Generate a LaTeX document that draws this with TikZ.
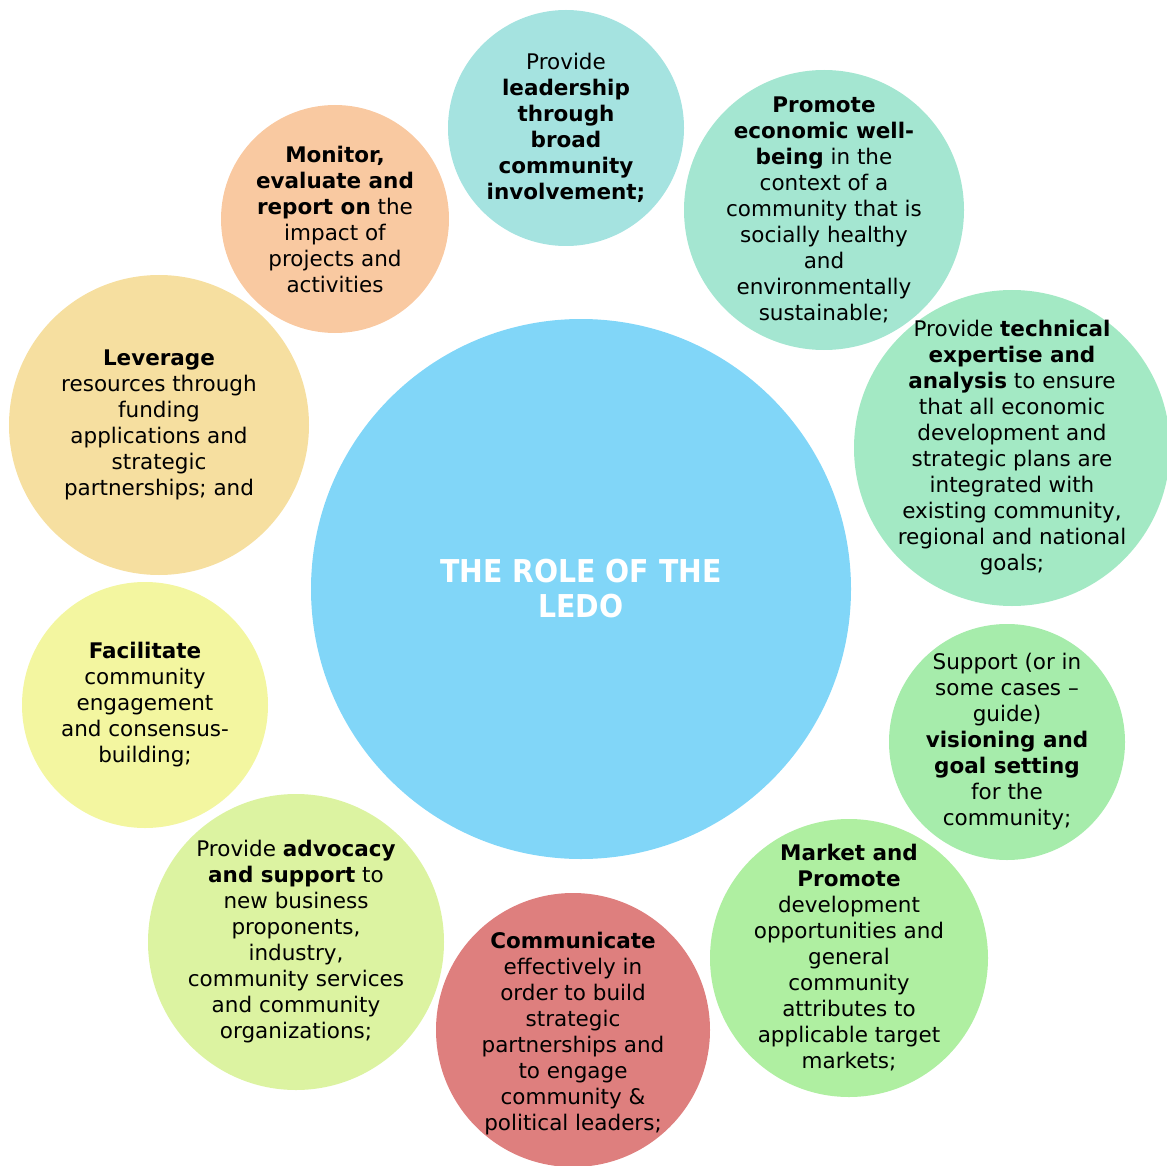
\documentclass[tikz,border=0pt]{standalone}
\usepackage{fontspec}
\setmainfont{DejaVu Sans}
\newfontfamily\condfont{DejaVu Sans Condensed}
\usepackage{tikz}

\definecolor{roleblue}{HTML}{81D6F8}
\definecolor{leadcol}{HTML}{A5E3E0}
\definecolor{econcol}{HTML}{A4E6D1}
\definecolor{techcol}{HTML}{A3E9C4}
\definecolor{visioncol}{HTML}{A6ECAB}
\definecolor{marketcol}{HTML}{AFEFA1}
\definecolor{commcol}{HTML}{DE7F7E}
\definecolor{advocol}{HTML}{DCF3A1}
\definecolor{facilcol}{HTML}{F3F6A0}
\definecolor{levercol}{HTML}{F6DFA0}
\definecolor{monitcol}{HTML}{F9C9A1}

\begin{document}
\begin{tikzpicture}[x=1pt, y=-1pt,
    disc/.style={circle, inner sep=0pt, minimum size=#1},
    blurb/.style={inner sep=0pt, align=center,
      font=\fontsize{21.5}{26}\selectfont}]
  \useasboundingbox (0,0) rectangle (1167,1166);

  % the big one in the middle
  \node [disc=540pt, fill=roleblue] (role) at (581,589) {};
  \node [blurb, text=white, font=\condfont\fontsize{31.5}{35}\selectfont\bfseries]
    (role-t) at (role) {THE ROLE OF THE\\LEDO};

  % ring of roles, clockwise from the top
  \node [disc=236pt, fill=leadcol]   (lead)   at (566,128)  {};
  \node [disc=280pt, fill=econcol]   (econ)   at (824,210)  {};
  \node [disc=316pt, fill=techcol]   (tech)   at (1012,448) {};
  \node [disc=236pt, fill=visioncol] (vision) at (1007,742) {};
  \node [disc=278pt, fill=marketcol] (market) at (849,958)  {};
  \node [disc=274pt, fill=commcol]   (comm)   at (573,1030) {};
  \node [disc=296pt, fill=advocol]   (advo)   at (296,942)  {};
  \node [disc=246pt, fill=facilcol]  (facil)  at (145,705)  {};
  \node [disc=300pt, fill=levercol]  (lever)  at (159,425)  {};
  \node [disc=228pt, fill=monitcol]  (monit)  at (335,219)  {};

  % texts on top of the discs
  \node [blurb] (lead-t) at (lead)
    {Provide\\\textbf{leadership}\\\textbf{through}\\\textbf{broad}\\
     \textbf{community}\\\textbf{involvement;}};
  \node [blurb] (econ-t) at (econ)
    {\textbf{Promote}\\\textbf{economic well-}\\\textbf{being} in the\\
     context of a\\community that is\\socially healthy\\and\\
     environmentally\\sustainable;};
  \node [blurb] (tech-t) at (tech)
    {Provide \textbf{technical}\\\textbf{expertise and}\\
     \textbf{analysis} to ensure\\that all economic\\development and\\
     strategic plans are\\integrated with\\existing community,\\
     regional and national\\goals;};
  \node [blurb] (vision-t) at (vision)
    {Support (or in\\some cases --\\guide)\\\textbf{visioning and}\\
     \textbf{goal setting}\\for the\\community;};
  \node [blurb] (market-t) at (market)
    {\textbf{Market and}\\\textbf{Promote}\\development\\
     opportunities and\\general\\community\\attributes to\\
     applicable target\\markets;};
  \node [blurb, yshift=-4pt] (comm-t) at (comm)
    {\textbf{Communicate}\\effectively in\\order to build\\strategic\\
     partnerships and\\to engage\\community \&\\political leaders;};
  \node [blurb] (advo-t) at (advo)
    {Provide \textbf{advocacy}\\\textbf{and support} to\\new business\\
     proponents,\\industry,\\community services\\and community\\
     organizations;};
  \node [blurb] (facil-t) at (facil)
    {\textbf{Facilitate}\\community\\engagement\\and consensus-\\building;};
  \node [blurb] (lever-t) at (lever)
    {\textbf{Leverage}\\resources through\\funding\\applications and\\
     strategic\\partnerships; and};
  \node [blurb] (monit-t) at (monit)
    {\textbf{Monitor,}\\\textbf{evaluate and}\\\textbf{report on} the\\
     impact of\\projects and\\activities};
\end{tikzpicture}
\end{document}
